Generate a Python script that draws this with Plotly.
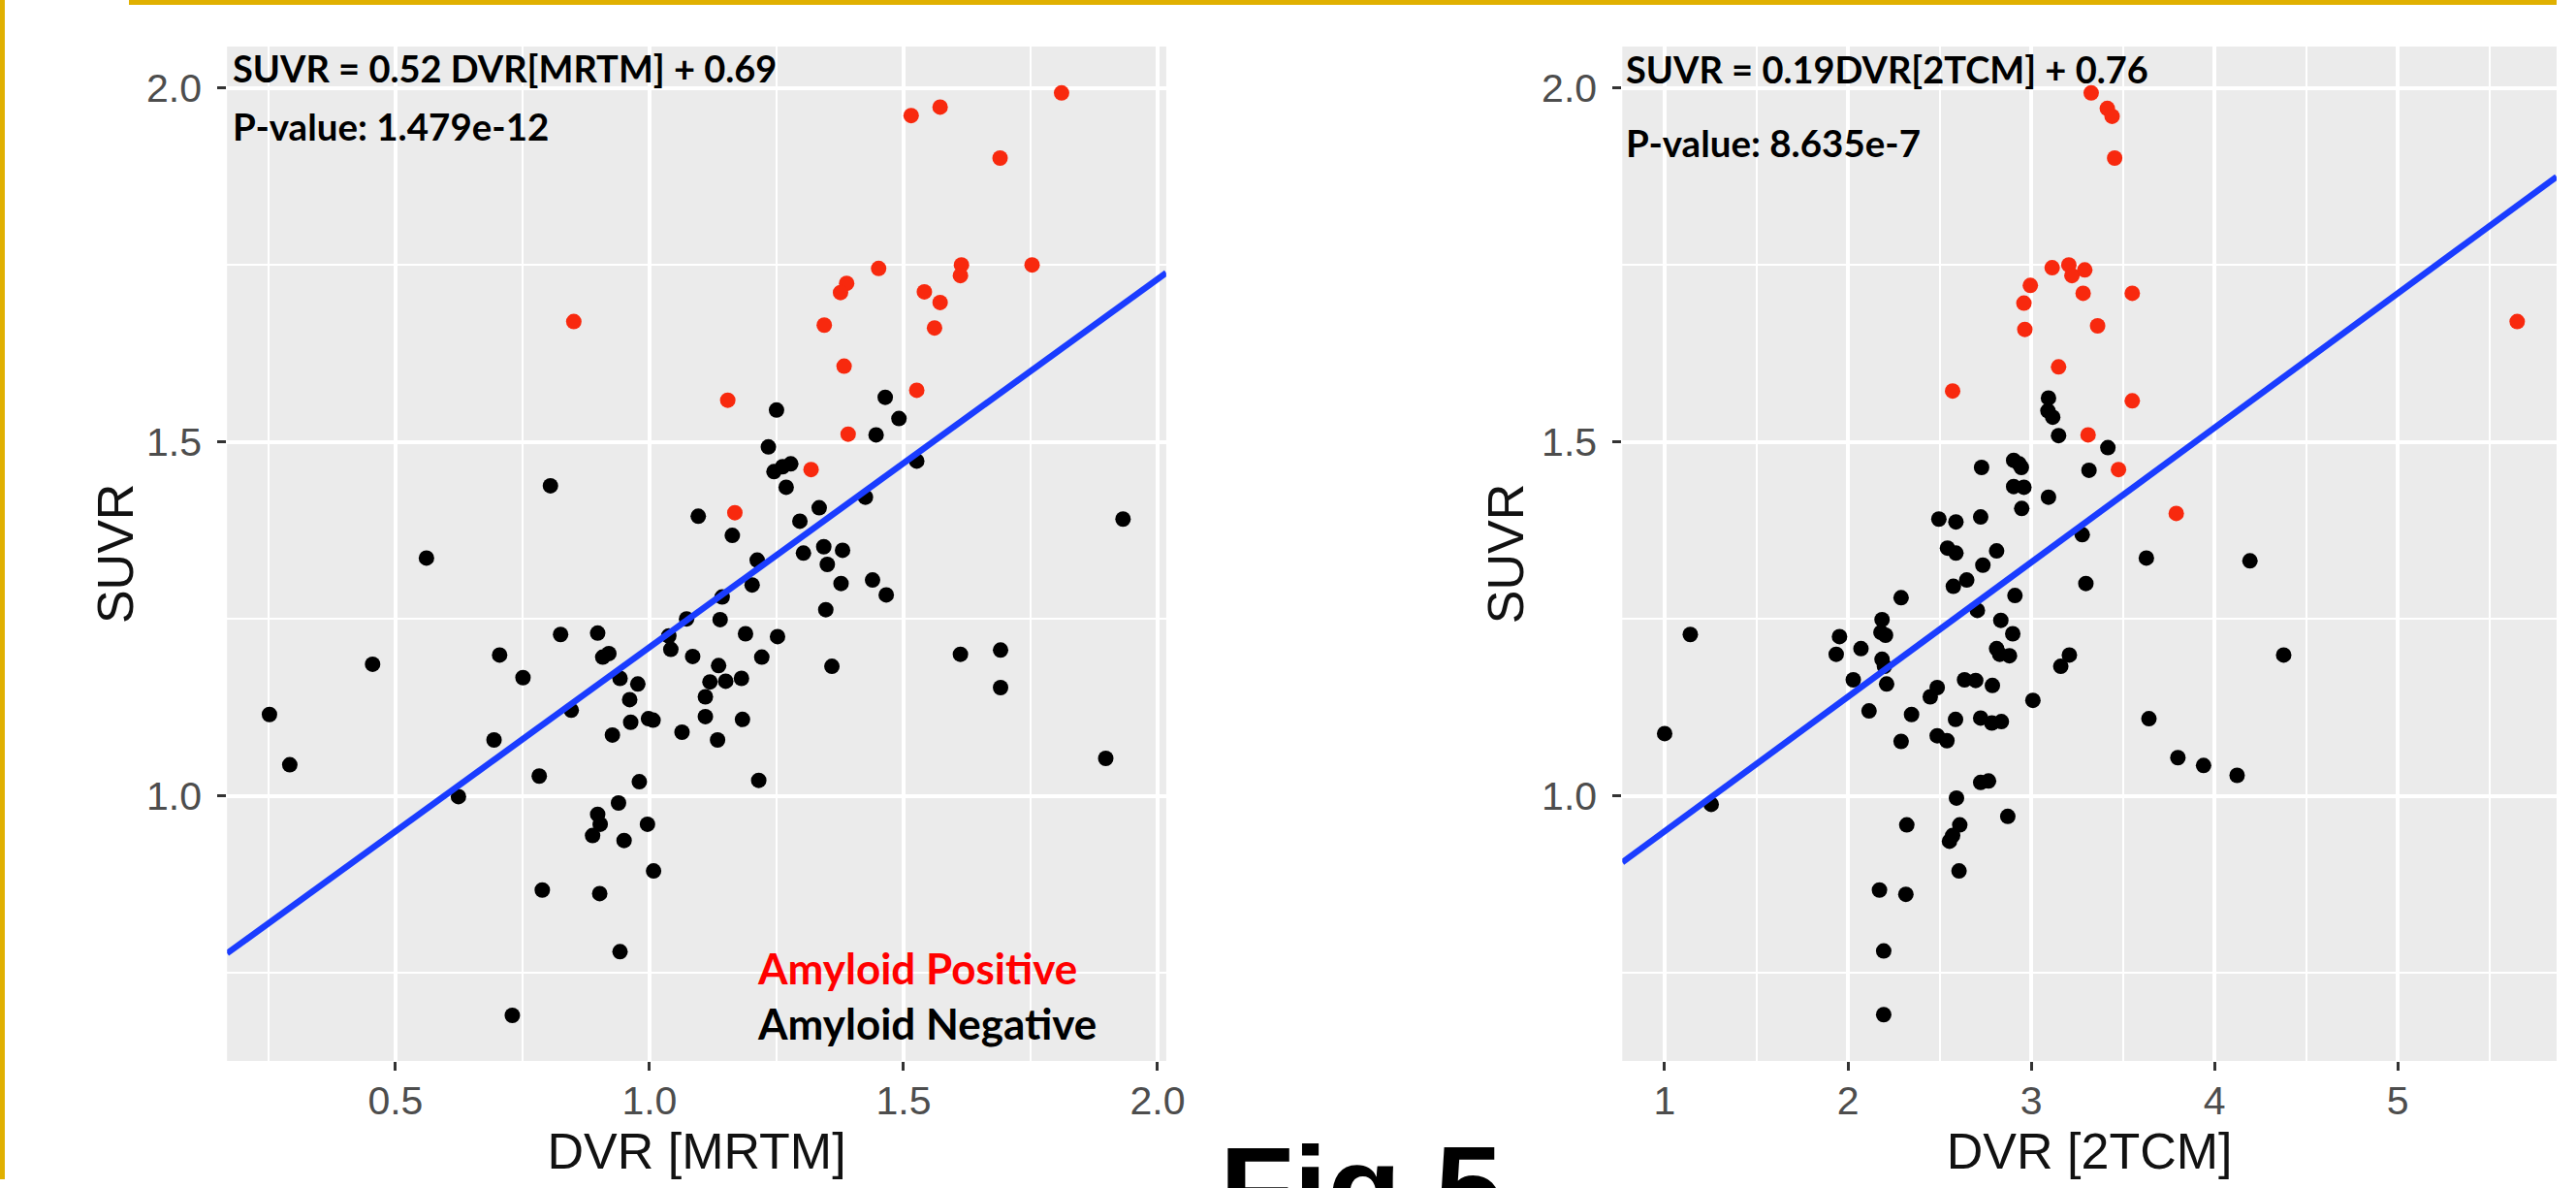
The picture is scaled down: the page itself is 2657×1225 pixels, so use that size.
import plotly.graph_objects as go

W, H = 2657, 1225

# ---------------- data: left panel (DVR [MRTM]) ----------------
mrtm_pos_x = [1.811, 1.572, 1.515, 1.690, 1.753, 1.614, 1.612, 1.451, 1.388, 1.376, 1.541,
              1.572, 1.561, 1.344, 0.851, 1.383, 1.526, 1.154, 1.391, 1.318, 1.168]
mrtm_pos_y = [1.993, 1.973, 1.961, 1.901, 1.750, 1.750, 1.735, 1.745, 1.724, 1.711, 1.712,
              1.697, 1.661, 1.665, 1.670, 1.607, 1.573, 1.559, 1.511, 1.461, 1.400]
mrtm_neg_x = [1.464, 1.250, 1.491, 1.446, 1.234, 1.526, 1.245, 1.262, 1.278, 1.269, 0.805,
              1.334, 1.425, 1.096, 1.296, 1.163, 0.561, 0.455, 0.252, 0.292, 0.825, 0.898,
              0.705, 0.751, 0.908, 0.920, 1.038, 1.042, 1.073, 0.942, 0.977, 0.961, 0.846,
              0.963, 0.998, 1.007, 0.927, 1.064, 0.694, 0.783, 0.980, 0.624, 0.939, 0.898,
              0.903, 0.888, 0.996, 0.950, 1.008, 0.789, 0.902, 0.942, 0.730, 1.932, 1.212,
              1.303, 1.343, 1.380, 1.350, 1.202, 1.377, 1.439, 1.466, 1.143, 1.347, 1.139,
              1.189, 1.252, 1.085, 1.221, 1.136, 1.359, 1.119, 1.150, 1.181, 1.110, 1.110,
              1.183, 1.134, 1.215, 1.612, 1.691, 1.691, 1.898]
mrtm_neg_y = [1.563, 1.545, 1.533, 1.510, 1.493, 1.473, 1.458, 1.465, 1.469, 1.436, 1.438,
              1.407, 1.422, 1.395, 1.388, 1.368, 1.336, 1.186, 1.115, 1.044, 1.228, 1.230,
              1.199, 1.167, 1.196, 1.201, 1.226, 1.207, 1.250, 1.166, 1.158, 1.136, 1.121,
              1.104, 1.109, 1.107, 1.086, 1.090, 1.079, 1.028, 1.020, 0.999, 0.990, 0.974,
              0.960, 0.944, 0.960, 0.937, 0.894, 0.867, 0.862, 0.780, 0.690, 1.391, 1.333,
              1.343, 1.352, 1.347, 1.327, 1.298, 1.300, 1.305, 1.284, 1.281, 1.263, 1.249,
              1.229, 1.225, 1.197, 1.196, 1.184, 1.183, 1.161, 1.162, 1.166, 1.140, 1.112,
              1.108, 1.079, 1.022, 1.200, 1.206, 1.153, 1.053]
mrtm_slope, mrtm_intercept = 0.52, 0.69

# ---------------- data: right panel (DVR [2TCM]) ----------------
tcm_pos_x = [3.327, 3.415, 3.441, 3.455, 3.114, 3.205, 3.222, 3.292, 2.995, 2.960, 3.283,
             2.965, 3.362, 3.149, 2.571, 3.310, 3.476, 3.551, 3.551, 3.791, 5.651]
tcm_pos_y = [1.993, 1.971, 1.960, 1.901, 1.746, 1.750, 1.735, 1.743, 1.721, 1.696, 1.710,
             1.659, 1.664, 1.606, 1.572, 1.510, 1.461, 1.710, 1.558, 1.399, 1.670]
tcm_neg_x = [3.094, 3.091, 3.117, 3.149, 3.418, 2.729, 2.904, 2.934, 2.946, 3.315, 2.904,
             2.960, 3.094, 2.948, 2.496, 2.589, 2.724, 3.278, 2.543, 2.589, 2.811, 2.736,
             2.575, 2.648, 3.298, 2.290, 2.911, 2.706, 2.186, 2.180, 2.205, 1.954, 2.834,
             2.899, 1.936, 2.071, 2.186, 2.199, 2.811, 2.828, 2.881, 1.140, 2.029, 2.211,
             2.636, 2.697, 2.788, 2.487, 2.449, 3.009, 2.115, 2.347, 2.587, 2.724, 2.785,
             2.837, 3.161, 3.208, 1.000, 2.290, 2.487, 2.540, 2.724, 2.767, 1.254, 2.592,
             2.321, 2.872, 2.610, 2.571, 2.554, 2.606, 2.172, 2.316, 2.195, 2.195, 3.628,
             4.193, 4.377, 3.642, 3.800, 3.940, 4.123]
tcm_neg_y = [1.562, 1.544, 1.535, 1.509, 1.492, 1.464, 1.474, 1.469, 1.464, 1.460, 1.437,
             1.436, 1.422, 1.406, 1.391, 1.387, 1.394, 1.369, 1.350, 1.343, 1.346, 1.326,
             1.296, 1.305, 1.300, 1.280, 1.283, 1.262, 1.249, 1.231, 1.227, 1.225, 1.248,
             1.229, 1.200, 1.208, 1.193, 1.183, 1.208, 1.200, 1.198, 1.228, 1.164, 1.158,
             1.164, 1.163, 1.156, 1.153, 1.140, 1.135, 1.120, 1.115, 1.108, 1.110, 1.103,
             1.105, 1.183, 1.199, 1.088, 1.077, 1.085, 1.078, 1.019, 1.021, 0.988, 0.997,
             0.959, 0.971, 0.959, 0.944, 0.936, 0.894, 0.867, 0.861, 0.781, 0.691, 1.336,
             1.332, 1.199, 1.109, 1.054, 1.043, 1.029]
tcm_slope, tcm_intercept = 0.19, 0.76

# tick labels
mrtm_ticks = [0.5, 1.0, 1.5, 2.0]
mrtm_ticktext = ["0.5", "1.0", "1.5", "2.0"]
tcm_ticks = [1, 2, 3, 4, 5]
tcm_ticktext = ["1", "2", "3", "4", "5"]
suvr_ticks = [1.0, 1.5, 2.0]
suvr_ticktext = ["1.0", "1.5", "2.0"]

# axis ranges (ggplot-style expansion, right panel cropped at image edge)
x1_range = [0.1686, 2.017]
x2_range = [0.769, 5.866]
y_range = [0.6256, 2.0585]

RED = "#F8290E"
BLUE = "#1A3CFF"
GOLD = "#E0B000"
SANS = "Liberation Sans, Arial, sans-serif"
TICKFONT = dict(family=SANS, size=41, color="#4D4D4D")
TITLEFONT = dict(family=SANS, size=52, color="#111111")
ANNFONT = "Lato, Open Sans, sans-serif"

fig = go.Figure()

def add_panel(xa, ya, negx, negy, posx, posy, slope, intercept, xr):
    fig.add_trace(go.Scatter(x=negx, y=negy, mode="markers", xaxis=xa, yaxis=ya,
                             marker=dict(color="black", size=16, line=dict(width=0)),
                             showlegend=False, hoverinfo="x+y"))
    fig.add_trace(go.Scatter(x=posx, y=posy, mode="markers", xaxis=xa, yaxis=ya,
                             marker=dict(color=RED, size=16, line=dict(width=0)),
                             showlegend=False, hoverinfo="x+y"))
    lx = [xr[0], xr[1]]
    ly = [slope * v + intercept for v in lx]
    fig.add_trace(go.Scatter(x=lx, y=ly, mode="lines", xaxis=xa, yaxis=ya,
                             line=dict(color=BLUE, width=6.5), showlegend=False,
                             hoverinfo="skip"))

add_panel("x", "y", mrtm_neg_x, mrtm_neg_y, mrtm_pos_x, mrtm_pos_y,
          mrtm_slope, mrtm_intercept, x1_range)
add_panel("x2", "y2", tcm_neg_x, tcm_neg_y, tcm_pos_x, tcm_pos_y,
          tcm_slope, tcm_intercept, x2_range)

def xaxis_cfg(domain, rng, ticks, ticktext, minor, title, anchor):
    return dict(domain=domain, range=rng, anchor=anchor, tickmode="array", tickvals=ticks,
                ticktext=ticktext,
                showgrid=True, gridcolor="white", gridwidth=3.5, zeroline=False, showline=False,
                ticks="outside", ticklen=9, tickwidth=2.5, tickcolor="#333333",
                tickfont=TICKFONT, ticklabelstandoff=-4,
                minor=dict(tickmode="array", tickvals=minor, showgrid=True,
                           gridcolor="white", gridwidth=1.8, ticks=""),
                title=dict(text=title, font=TITLEFONT, standoff=4))

def yaxis_cfg(domain, anchor):
    return dict(domain=domain, range=y_range, anchor=anchor, tickmode="array",
                tickvals=suvr_ticks, ticktext=suvr_ticktext,
                showgrid=True, gridcolor="white", gridwidth=3.5, zeroline=False, showline=False,
                ticks="outside", ticklen=9, tickwidth=2.5, tickcolor="#333333",
                tickfont=TICKFONT, ticklabelstandoff=8,
                minor=dict(tickmode="array", tickvals=[0.75, 1.25, 1.75], showgrid=True,
                           gridcolor="white", gridwidth=1.8, ticks=""))

ydom = [1 - 1094 / H, 1 - 48 / H]
fig.update_layout(
    width=W, height=H, margin=dict(l=0, r=0, t=0, b=0),
    paper_bgcolor="white", plot_bgcolor="#EBEBEB",
    xaxis=xaxis_cfg([236 / W, 1212 / W], x1_range, mrtm_ticks, mrtm_ticktext,
                    [0.25, 0.75, 1.25, 1.75], "DVR [MRTM]", "y"),
    yaxis=yaxis_cfg(ydom, "x"),
    xaxis2=xaxis_cfg([1686 / W, 1.0], x2_range, tcm_ticks, tcm_ticktext,
                     [1.5, 2.5, 3.5, 4.5, 5.5], "DVR [2TCM]", "y2"),
    yaxis2=yaxis_cfg(ydom, "x2"),
)

# y-axis titles (rotated, placed as in the reference)
for xc in (120, 1565):
    fig.add_annotation(text="SUVR", xref="paper", yref="paper", x=xc / W, y=1 - 571 / H,
                       xanchor="center", yanchor="middle", textangle=-90, showarrow=False,
                       font=TITLEFONT)

def ann(text, xpx, ypx, size, color="black"):
    fig.add_annotation(text="<b>" + text + "</b>", xref="paper", yref="paper",
                       x=xpx / W, y=1 - ypx / H, xanchor="left", yanchor="middle",
                       showarrow=False, font=dict(family=ANNFONT, size=size, color=color))

ann("SUVR = 0.52 DVR[MRTM] + 0.69", 240, 70, 38)
ann("P-value: 1.479e-12", 240, 130, 38.5)
ann("SUVR = 0.19DVR[2TCM] + 0.76", 1688, 71, 38)
ann("P-value: 8.635e-7", 1688, 147, 38.5)
ann("Amyloid Positive", 785, 998, 44, "#FF0000")
ann("Amyloid Negative", 785, 1055, 44, "black")

# Figure label, partly cut off by the bottom edge (as in the reference)
fig.add_annotation(text="<b>Fig 5</b>", xref="paper", yref="paper", x=1266 / W, y=1 - 1154 / H,
                   xanchor="left", yanchor="top", showarrow=False,
                   font=dict(family=SANS, size=125, color="black"))

# gold frame lines
fig.add_shape(type="rect", xref="paper", yref="paper", x0=134 / W, x1=1, y0=1 - 5 / H, y1=1,
              fillcolor=GOLD, line=dict(width=0), layer="above")
fig.add_shape(type="rect", xref="paper", yref="paper", x0=0, x1=5 / W, y0=1 - 1216 / H, y1=1,
              fillcolor=GOLD, line=dict(width=0), layer="above")

fig.write_html("out.html", config={"displayModeBar": False},
               post_script="document.body.style.margin='0';document.body.style.overflow='hidden';")
